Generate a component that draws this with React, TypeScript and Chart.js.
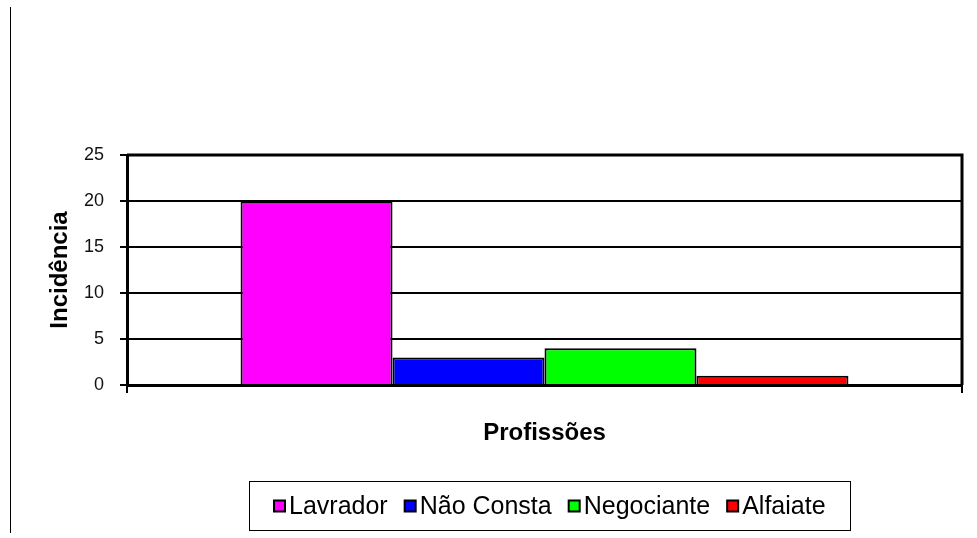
import React, { useEffect, useRef } from "react";
import { Chart, registerables } from "chart.js";
Chart.register(...registerables);

const categories = [""];
const seriesLabels = ["Lavrador", "Não Consta", "Negociante", "Alfaiate"];
const lavrador = [20];
const naoConsta = [3];
const negociante = [4];
const alfaiate = [1];
const seriesColors = ["#FF00FF", "#0000FF", "#00FF00", "#FF0000"];
const yMin = 0;
const yMax = 25;
const yStep = 5;
const yTitle = "Incidência";
const xTitle = "Profissões";

const W = 977;
const H = 538;

const framePlugin = {
  id: "frame",
  afterDraw(chart: any) {
    const { ctx, chartArea: a } = chart;
    ctx.save();
    ctx.strokeStyle = "#000";
    ctx.lineWidth = 3;
    ctx.beginPath();
    ctx.moveTo(a.left, a.top);
    ctx.lineTo(a.right, a.top);
    ctx.lineTo(a.right, a.bottom);
    ctx.stroke();

    // outer decorative line at the left
    ctx.lineWidth = 1;
    ctx.beginPath();
    ctx.moveTo(10.5, 7);
    ctx.lineTo(10.5, 533);
    ctx.stroke();

    // legend box
    const bx = 249.5, by = 481.5, bw = 601, bh = 49;
    ctx.strokeRect(bx, by, bw, bh);
    ctx.font = "25px Arial, 'Liberation Sans', sans-serif";
    ctx.textBaseline = "middle";
    ctx.textAlign = "left";
    const box = 11, gapBoxText = 4, gapItem = 17;
    const ds = chart.data.datasets;
    const widths = ds.map((d: any) => ctx.measureText(d.label).width);
    let total = 0;
    widths.forEach((w: number) => (total += box + gapBoxText + w));
    total += gapItem * (ds.length - 1);
    let x = Math.round(bx + (bw - total) / 2);
    const cy = 506;
    ds.forEach((d: any, i: number) => {
      ctx.fillStyle = d.backgroundColor;
      ctx.fillRect(x, cy - box / 2, box, box);
      ctx.lineWidth = 2;
      ctx.strokeStyle = "#000";
      ctx.strokeRect(x, cy - box / 2, box, box);
      ctx.fillStyle = "#000";
      ctx.fillText(d.label, x + box + gapBoxText, cy + 1);
      x += box + gapBoxText + widths[i] + gapItem;
    });
    ctx.restore();
  },
};

export default function App() {
  const ref = useRef<HTMLCanvasElement>(null);
  useEffect(() => {
    if (!ref.current) return;
    const seriesData = [lavrador, naoConsta, negociante, alfaiate];
    const chart = new Chart(ref.current, {
      type: "bar",
      data: {
        labels: categories,
        datasets: seriesLabels.map((label, i) => ({
          label,
          data: seriesData[i],
          backgroundColor: seriesColors[i],
          borderColor: "#000",
          borderWidth: 2,
          barPercentage: 1,
          categoryPercentage: 0.728,
        })),
      },
      options: {
        responsive: false,
        animation: false,
        devicePixelRatio: 1,
        layout: { padding: { left: 40, top: 155, right: 15, bottom: 93 } },
        plugins: {
          legend: { display: false },
          tooltip: { enabled: false },
        },
        scales: {
          x: {
            type: "category",
            ticks: { display: false },
            grid: {
              offset: true,
              drawOnChartArea: false,
              drawTicks: true,
              tickLength: 8,
              color: "#000",
              lineWidth: 2,
            },
            border: { display: true, color: "#000", width: 3 },
            title: {
              display: true,
              text: xTitle,
              color: "#000",
              font: { family: "Arial, 'Liberation Sans', sans-serif", size: 24, weight: "bold", lineHeight: 1 },
              padding: 0,
            },
            afterFit: (s: any) => {
              s.height = 60;
            },
          },
          y: {
            min: yMin,
            max: yMax,
            ticks: {
              stepSize: yStep,
              color: "#111",
              padding: 16,
              font: { family: "Arial, 'Liberation Sans', sans-serif", size: 18 },
            },
            grid: {
              color: "#000",
              lineWidth: 2,
              tickLength: 7,
              drawTicks: true,
            },
            border: { display: true, color: "#000", width: 3 },
            title: {
              display: true,
              text: yTitle,
              color: "#000",
              font: { family: "Arial, 'Liberation Sans', sans-serif", size: 24, weight: "bold", lineHeight: 1 },
              padding: { top: 8, bottom: 0 },
            },
            afterFit: (s: any) => {
              s.width = 87;
            },
          },
        },
      },
      plugins: [framePlugin],
    });
    return () => chart.destroy();
  }, []);
  return (
    <div style={{ position: "fixed", left: 0, top: 0, width: W, height: H, background: "#fff" }}>
      <canvas ref={ref} width={W} height={H} style={{ display: "block" }} />
    </div>
  );
}
